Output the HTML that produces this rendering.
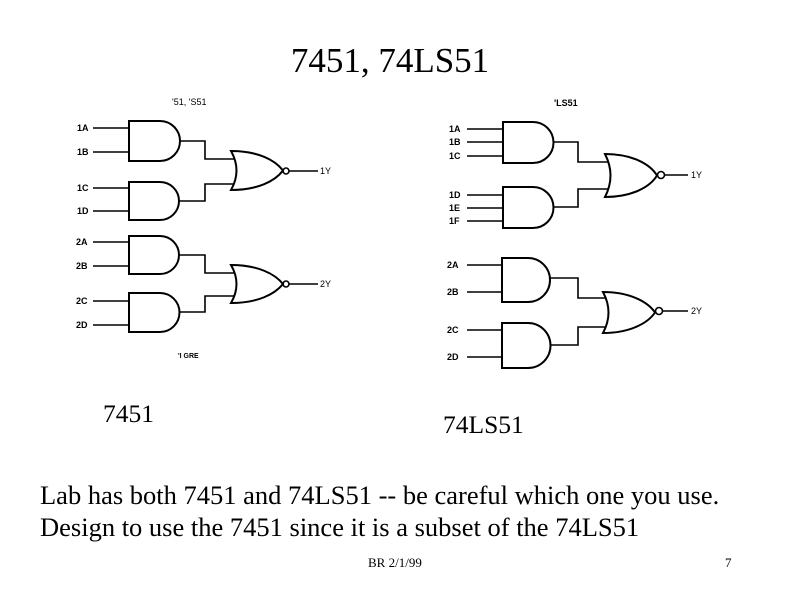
<!DOCTYPE html>
<html><head><meta charset="utf-8"><style>
html,body{margin:0;padding:0;background:#fff;}
body{width:800px;height:600px;position:relative;overflow:hidden;font-family:"Liberation Serif",serif;}
.t{position:absolute;white-space:nowrap;color:#000;}
</style></head><body>
<div class="t" style="left:0;width:780px;text-align:center;top:41px;font-size:35px;">7451, 74LS51</div>
<div class="t" style="left:103px;top:399px;font-size:25.5px;">7451</div>
<div class="t" style="left:443px;top:410px;font-size:25.5px;">74LS51</div>
<div class="t" style="left:40px;top:480px;font-size:26.5px;">Lab has both 7451 and 74LS51 -- be careful which one you use.</div>
<div class="t" style="left:40px;top:512px;font-size:26.5px;">Design to use the 7451 since it is a subset of the 74LS51</div>
<div class="t" style="left:368px;top:555px;font-size:13px;">BR 2/1/99</div>
<div class="t" style="left:725px;top:555px;font-size:13px;">7</div>
<svg width="800" height="600" style="position:absolute;left:0;top:0" xmlns="http://www.w3.org/2000/svg">
<g fill="none" stroke="#000" stroke-width="1.6">
<path d="M129,121 H160 A20,20 0 0 1 160,161 H129 Z" stroke-width="2"/>
<path d="M129,182 H160 A19,19 0 0 1 160,220 H129 Z" stroke-width="2"/>
<path d="M129,236 H160 A19,19 0 0 1 160,274 H129 Z" stroke-width="2"/>
<path d="M129,293 H160 A19.5,19.5 0 0 1 160,332 H129 Z" stroke-width="2"/>
<path d="M231,151 C258,151 275,160 283,170.5 C275,181 258,190 231,190 Q242,170.5 231,151 Z" stroke-width="2"/>
<path d="M231,265 C258,265 275,274 283,284 C275,294 258,303 231,303 Q242,284 231,265 Z" stroke-width="2"/>
<circle cx="286" cy="171" r="3"/><circle cx="286" cy="284" r="3"/>
<path d="M93,128H129 M93,152H129 M93,188H129 M93,211H129 M93,242H129 M93,266H129 M93,301H129 M93,325H129"/>
<path d="M180,141H205V159H234 M179,201H205V184H234 M179,255H205V273H234 M179,312H205V296H234"/>
<path d="M289,171H318 M289,284H318"/>
<path d="M503,122 H533 A20.5,20.5 0 0 1 533,163 H503 Z" stroke-width="2"/>
<path d="M503,187 H533 A20.5,20.5 0 0 1 533,228 H503 Z" stroke-width="2"/>
<path d="M502,258 H528 A22,22 0 0 1 528,302 H502 Z" stroke-width="2"/>
<path d="M502,323 H528 A22.5,22.5 0 0 1 528,368 H502 Z" stroke-width="2"/>
<path d="M605,154 C632,154 650,164 657,175.5 C650,187 632,197 605,197 Q616,175.5 605,154 Z" stroke-width="2"/>
<path d="M603,292 C630,292 648,302 655,312.5 C648,323 630,333 603,333 Q614,312.5 603,292 Z" stroke-width="2"/>
<circle cx="661" cy="175" r="3.5"/><circle cx="659" cy="311" r="3.5"/>
<path d="M467,129H503 M467,142H503 M467,156H503 M467,195H503 M467,208H503 M467,221H503 M467,265H502 M467,292H502 M467,330H502 M467,357H502"/>
<path d="M553,142H578V162H608 M553,207H578V189H608 M550,278H578V298H606 M550,345H578V327H606"/>
<path d="M665,175H688 M663,311H688"/>
</g>
<g font-family="Liberation Sans, sans-serif" font-size="9" font-weight="bold" fill="#000">
<text x="77" y="131">1A</text><text x="77" y="155">1B</text>
<text x="77" y="191">1C</text><text x="77" y="214">1D</text>
<text x="76" y="245">2A</text><text x="76" y="269">2B</text>
<text x="76" y="304">2C</text><text x="76" y="328">2D</text>
<text x="320" y="174" font-weight="normal">1Y</text><text x="320" y="287" font-weight="normal">2Y</text>
<text x="172" y="105" font-weight="normal">'51, 'S51</text>
<text x="178" y="358" font-size="7">'I  GRE</text>
<text x="449" y="132">1A</text><text x="449" y="145">1B</text><text x="449" y="159">1C</text>
<text x="449" y="198">1D</text><text x="449" y="211">1E</text><text x="449" y="224">1F</text>
<text x="447" y="268">2A</text><text x="447" y="295">2B</text>
<text x="447" y="333">2C</text><text x="447" y="360">2D</text>
<text x="691" y="178" font-weight="normal">1Y</text><text x="691" y="314" font-weight="normal">2Y</text>
<text x="554" y="106">'LS51</text>
</g>
</svg>
</body></html>
